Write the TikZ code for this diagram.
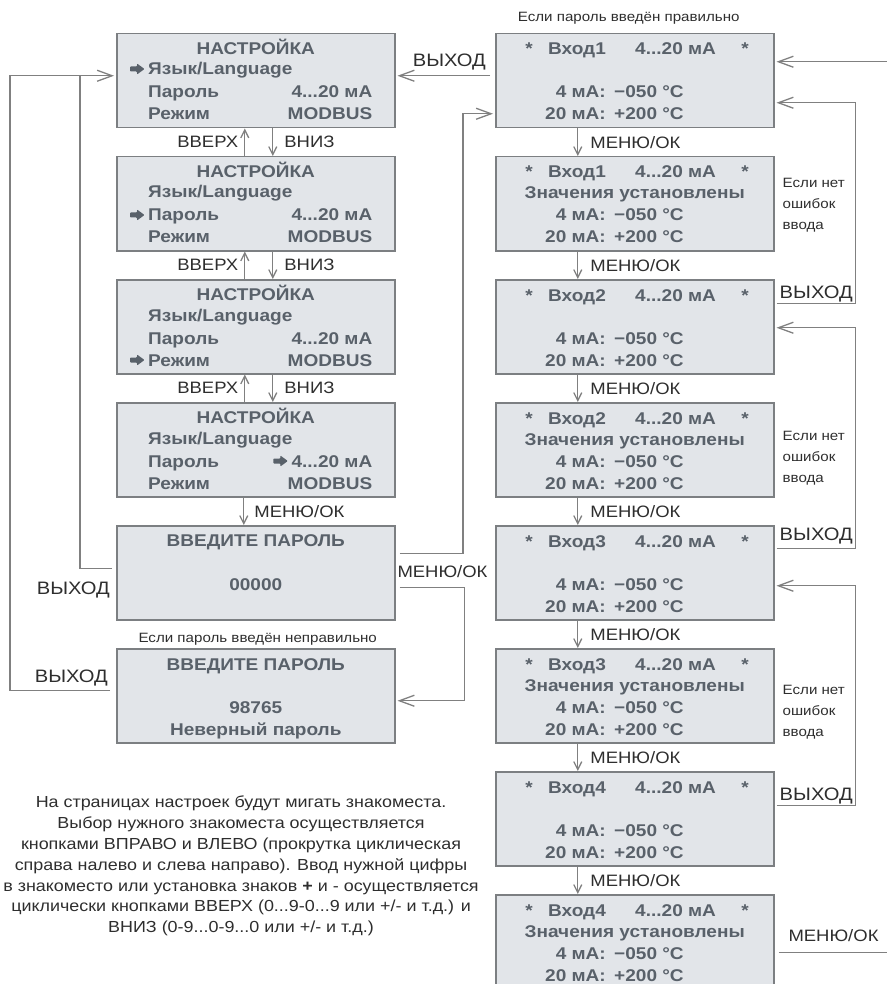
\documentclass[tikz,border=0pt]{standalone}
\usepackage{fontspec}
\setmainfont{Liberation Sans}[FakeStretch=1.12]
\usetikzlibrary{arrows.meta,calc}

\definecolor{lcdfill}{HTML}{E2E5E9}
\definecolor{lcdedge}{HTML}{7C7F82}
\definecolor{lcdink}{HTML}{59616A}
\definecolor{wiregray}{HTML}{808080}
\definecolor{ink}{HTML}{2E2E2E}

\tikzset{
	screen/.style={draw=lcdedge, line width=1.5pt, fill=lcdfill, minimum width=278pt, minimum height=94pt, inner sep=0pt},
	lcd/.style={text=lcdink, font=\bfseries\fontsize{17}{20}\selectfont, inner sep=0pt},
	lbl/.style={text=ink, font=\fontsize{16.5}{19}\selectfont, inner sep=0pt},
	exit/.style={text=ink, font=\fontsize{18}{21}\selectfont, inner sep=0pt},
	hint/.style={text=ink, font=\fontsize{13.5}{21}\selectfont, inner sep=0pt, align=left},
	wire/.style={draw=wiregray, line width=1.3pt},
	go/.style={wire, -{Straight Barb[length=15pt,width=11pt]}},
	hop/.style={wire, -{Straight Barb[length=8pt,width=8pt]}},
}

\begin{document}
\begin{tikzpicture}[x=1pt, y=-1pt]
	\useasboundingbox (0,0) rectangle (886,984);

	% Ecrans de reglage (a gauche)
	\foreach \n/\t in {l1/33, l2/156, l3/279, l4/402, l5/525, l6/648} {
		\node[screen, anchor=north west] (\n) at (116,\t) {};
	}
	% Ecrans des entrees (a droite)
	\foreach \i in {1,...,8} {
		\node[screen, anchor=north west] (r\i) at (495, {33+123*(\i-1)}) {};
	}

	% Menu НАСТРОЙКА
	\foreach \k in {1,...,4} {
		\node[lcd, anchor=base] (ti\k) at ($(l\k.north)+(0,21.5)$) {НАСТРОЙКА};
		\node[lcd, anchor=base west] (la\k) at ($(l\k.north west)+(32,42)$) {Язык/Language};
		\node[lcd, anchor=base west] (pw\k) at ($(l\k.north west)+(32,65)$) {Пароль};
		\node[lcd, anchor=base east] (ma\k) at ($(l\k.north east)+(-23,65)$) {4...20 мА};
		\node[lcd, anchor=base west] (mo\k) at ($(l\k.north west)+(32,87)$) {Режим};
		\node[lcd, anchor=base east] (mb\k) at ($(l\k.north east)+(-23,87)$) {MODBUS};
	}
	% Curseur
	\foreach \t in {la1, pw2, mo3, ma4} {
		\fill[lcdink, rounded corners=0.8pt] ($(\t.base west)+(-18,-8.5)$) -- ++(7,0) -- ++(0,-3) -- ++(7.5,5.5) -- ++(-7.5,5.5) -- ++(0,-3) -- ++(-7,0) -- cycle;
	}

	% Mot de passe
	\node[lcd, anchor=base] (vp5) at ($(l5.north)+(0,21)$) {ВВЕДИТЕ ПАРОЛЬ};
	\node[lcd, anchor=base] (nb5) at ($(l5.north)+(0,65)$) {00000};
	\node[lcd, anchor=base] (vp6) at ($(l6.north)+(0,22)$) {ВВЕДИТЕ ПАРОЛЬ};
	\node[lcd, anchor=base] (nb6) at ($(l6.north)+(0,65)$) {98765};
	\node[lcd, anchor=base] (er6) at ($(l6.north)+(0,87)$) {Неверный пароль};

	% Entrees
	\foreach \i/\n in {1/1,2/1,3/2,4/2,5/3,6/3,7/4,8/4} {
		\node[lcd, anchor=base] (sa\i) at ($(r\i.north west)+(34,22)$) {*};
		\node[lcd, anchor=base west] (in\i) at ($(r\i.north west)+(53,22)$) {Вход\n};
		\node[lcd, anchor=base west] (rg\i) at ($(r\i.north west)+(140,22)$) {4...20 мА};
		\node[lcd, anchor=base] (sb\i) at ($(r\i.north west)+(250,22)$) {*};
		\node[lcd, anchor=base east] (lo\i) at ($(r\i.north west)+(111,65)$) {4 мА:};
		\node[lcd, anchor=base west] (lv\i) at ($(r\i.north west)+(119,65)$) {−050 °C};
		\node[lcd, anchor=base east] (hi\i) at ($(r\i.north west)+(111,87)$) {20 мА:};
		\node[lcd, anchor=base west] (hv\i) at ($(r\i.north west)+(119,87)$) {+200 °C};
	}
	\foreach \i in {2,4,6,8} {
		\node[lcd, anchor=base] (ok\i) at ($(r\i.north)+(0,43)$) {Значения установлены};
	}
	\foreach \i/\d in {2/1, 4/8, 6/16} {
		\node[hint, anchor=west] (ne\i) at ($(r\i.east)+(8,\d)$) {Если нет\\ошибок\\ввода};
	}

	% Fleches ВВЕРХ / ВНИЗ
	\foreach \k [evaluate=\k as \j using int(\k+1)] in {1,2,3} {
		\draw[hop] ($(l\j.north)+(-11,0)$) -- ($(l\k.south)+(-11,0)$) node[lbl, midway, left=6pt] (up\k) {ВВЕРХ};
		\draw[hop] ($(l\k.south)+(17,0)$) -- ($(l\j.north)+(17,0)$) node[lbl, midway, right=11pt] (dn\k) {ВНИЗ};
	}
	\draw[hop] ($(l4.south)+(-12,0)$) -- ($(l5.north)+(-12,0)$) node[lbl, midway, right=10pt] (m0) {МЕНЮ/ОК};
	\foreach \i [evaluate=\i as \j using int(\i+1)] in {1,...,7} {
		\draw[hop] ($(r\i.south)+(-57,0)$) -- ($(r\j.north)+(-57,0)$) node[lbl, midway, right=12pt] (m\i) {МЕНЮ/ОК};
	}

	% ВЫХОД a gauche
	\draw[go] ($(l5.west)+(-4,-4)$) -| ($(l1.west)+(-36,-5)$) -- ($(l1.west)+(-2,-5)$);
	\draw[wire] ($(l6.west)+(-6,-5)$) -| ($(l1.west)+(-106,-5)$) -- ($(l1.west)+(-36,-5)$);
	\node[exit, anchor=base east] (x5) at ($(l5.west)+(-6,21.5)$) {ВЫХОД};
	\node[exit, anchor=base east] (x6) at ($(l6.west)+(-8,-13.5)$) {ВЫХОД};
	\draw[go] ($(r1.west)+(-5,-5)$) -- ($(l1.east)+(2,-5)$) node[exit, pos=0.44, above=5pt] (x1) {ВЫХОД};

	% МЕНЮ/ОК au milieu
	\draw[go] ($(l5.east)+(4,-19)$) -| ($(r1.west)+(-32,33)$) -- ($(r1.west)+(-2,33)$);
	\draw[go] ($(l5.east)+(4,15)$) -| ($(l6.east)+(69,5)$) -- ($(l6.east)+(2,5)$);
	\node[lbl, anchor=base] (mm) at ($(l5.east)+(47,5)$) {МЕНЮ/ОК};

	% Boucles a droite
	\draw[go] ($(r1.east)+(117,-19)$) -- ($(r1.east)+(2,-19)$);
	\draw[go] ($(r3.east)+(2,-23)$) -| ($(r1.east)+(81,22)$) -- ($(r1.east)+(2,22)$);
	\draw[go] ($(r5.east)+(2,-24)$) -| ($(r3.east)+(81,1)$) -- ($(r3.east)+(2,1)$);
	\draw[go] ($(r7.east)+(2,-13)$) -| ($(r5.east)+(81,13)$) -- ($(r5.east)+(2,13)$);
	\node[exit, anchor=base west] (x3) at ($(r3.east)+(5,-28)$) {ВЫХОД};
	\node[exit, anchor=base west] (x7a) at ($(r5.east)+(5,-32.5)$) {ВЫХОД};
	\node[exit, anchor=base west] (x7) at ($(r7.east)+(5,-18.5)$) {ВЫХОД};
	\draw[wire] ($(r8.east)+(4,11)$) -- ($(r8.east)+(117,11)$);
	\node[lbl, anchor=base] (m8) at ($(r8.east)+(59,0)$) {МЕНЮ/ОК};

	% Notes
	\node[hint, anchor=base] (h1) at ($(r1.north)+(-6,-11.5)$) {Если пароль введён правильно};
	\node[hint, anchor=base] (h2) at ($(l6.north)+(2,-5.5)$) {Если пароль введён неправильно};
	\node[text=ink, font=\fontsize{16}{20.8}\selectfont, inner sep=0pt, align=center, anchor=north] (aide) at (241,796) {На страницах настроек будут мигать знакоместа.\\Выбор нужного знакоместа осуществляется\\кнопками ВПРАВО и ВЛЕВО (прокрутка циклическая\\справа налево и слева направо). Ввод нужной цифры\\в знакоместо или установка знаков \textbf{+} и - осуществляется\\циклически кнопками ВВЕРХ (0...9-0...9 или +/- и т.д.) и\\ВНИЗ (0-9...0-9...0 или +/- и т.д.)};
\end{tikzpicture}
\end{document}
